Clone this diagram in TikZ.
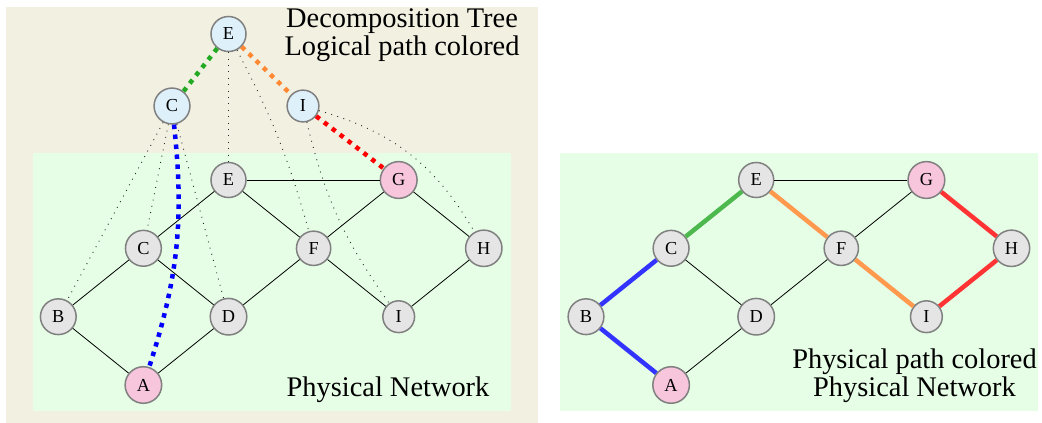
\documentclass[tikz,border=0pt]{standalone}
\usepackage{fontspec}
\setmainfont{Liberation Serif}
\definecolor{beigebg}{RGB}{242,240,225}
\definecolor{greenbg}{RGB}{230,253,230}
\definecolor{nodegray}{RGB}{128,128,128}
\definecolor{fillgray}{RGB}{229,229,229}
\definecolor{fillpink}{RGB}{247,198,220}
\definecolor{fillblue}{RGB}{222,241,250}
\definecolor{pgreen}{RGB}{77,184,77}
\definecolor{porange}{RGB}{255,153,77}
\definecolor{pblue}{RGB}{51,51,255}
\definecolor{pred}{RGB}{255,51,51}
\definecolor{lgreen}{RGB}{34,170,34}
\definecolor{lorange}{RGB}{255,136,51}
\definecolor{lblue}{RGB}{0,0,255}
\definecolor{lred}{RGB}{255,0,0}
\begin{document}
\begin{tikzpicture}[x=1pt,y=1pt,
  vtx/.style={circle, draw=nodegray, line width=1.5pt, inner sep=6.6pt, font=\fontsize{18.3}{19}\selectfont},
  phys/.style={vtx, fill=fillgray},
  endp/.style={vtx, fill=fillpink},
  treev/.style={vtx, fill=fillblue},
  link/.style={line width=0.8pt, black},
  hint/.style={line width=0.9pt, dash pattern=on 0.9pt off 5.5pt, black!85},
  logic/.style={line width=4.5pt, dash pattern=on 4.5pt off 5.5pt},
  ppath/.style={line width=4.5pt},
  big/.style={font=\fontsize{28.4}{28}\selectfont, align=center, inner sep=0pt}
]
\useasboundingbox (0,0) rectangle (1042,-423);
\fill[beigebg] (6,-7) rectangle (538,-423);
\fill[greenbg] (33,-153) rectangle (511,-411);
\fill[greenbg] (560,-153) rectangle (1038,-411);

% ---------- left panel: physical network ----------
\node[phys] (lE) at (228.5,-180) {E};
\node[endp] (lG) at (398.7,-180) {G};
\node[phys] (lC) at (143.4,-248.3) {C};
\node[phys] (lF) at (313.6,-248.3) {F};
\node[phys] (lH) at (483.8,-248.3) {H};
\node[phys] (lB) at (58.3,-316.7) {B};
\node[phys] (lD) at (228.5,-316.7) {D};
\node[phys] (lI) at (398.7,-316.7) {I};
\node[endp] (lA) at (143.4,-385) {A};

% ---------- left panel: decomposition tree ----------
\node[treev] (tE) at (228.5,-34) {E};
\node[treev] (tC) at (172,-106) {C};
\node[treev] (tI) at (303,-106) {I};

\draw[link] (lA) -- (lB);
\draw[link] (lA) -- (lD);
\draw[link] (lB) -- (lC);
\draw[link] (lC) -- (lE);
\draw[link] (lC) -- (lD);
\draw[link] (lD) -- (lF);
\draw[link] (lE) -- (lF);
\draw[link] (lE) -- (lG);
\draw[link] (lF) -- (lG);
\draw[link] (lF) -- (lI);
\draw[link] (lG) -- (lH);
\draw[link] (lH) -- (lI);

\draw[hint] (tC) -- (lB);
\draw[hint] (tC) -- (lC);
\draw[hint] (tC) -- (lD);
\draw[hint] (tE) -- (lE);
\draw[hint] (tE) to[bend left=6] (lF);
\draw[hint] (tI) to[bend right=11] (lI);
\draw[hint] (tI) to[bend left=22] (lH);

\draw[logic, lgreen] (tE) -- (tC);
\draw[logic, lorange] (tE) -- (tI);
\draw[logic, lred] (tI) -- (lG);
\draw[logic, lblue] (tC) to[bend left=12] (lA);

\node[big] (title) at (402,-35.5) {Decomposition Tree\\Logical path colored};
\node[big, anchor=base] (lnet) at (388,-396.7) {Physical Network};

% ---------- right panel ----------
\node[phys] (rE) at (756.2,-180) {E};
\node[endp] (rG) at (926.4,-180) {G};
\node[phys] (rC) at (671.1,-248.3) {C};
\node[phys] (rF) at (841.3,-248.3) {F};
\node[phys] (rH) at (1011.5,-248.3) {H};
\node[phys] (rB) at (586,-316.7) {B};
\node[phys] (rD) at (756.2,-316.7) {D};
\node[phys] (rI) at (926.4,-316.7) {I};
\node[endp] (rA) at (671.1,-385) {A};

\draw[link] (rE) -- (rG);
\draw[link] (rC) -- (rD);
\draw[link] (rD) -- (rA);
\draw[link] (rD) -- (rF);
\draw[link] (rF) -- (rG);
\draw[ppath, pblue] (rA) -- (rB);
\draw[ppath, pblue] (rB) -- (rC);
\draw[ppath, pgreen] (rC) -- (rE);
\draw[ppath, porange] (rE) -- (rF);
\draw[ppath, porange] (rF) -- (rI);
\draw[ppath, pred] (rG) -- (rH);
\draw[ppath, pred] (rH) -- (rI);

\node[big] (rtitle) at (914.5,-375.4) {Physical path colored\\Physical Network};
\end{tikzpicture}
\end{document}
